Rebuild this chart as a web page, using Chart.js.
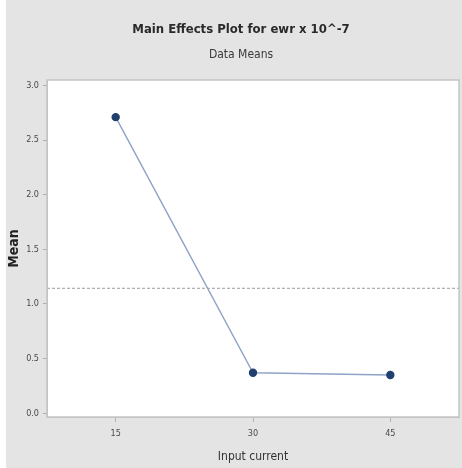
<!DOCTYPE html>
<html>
<head>
<meta charset="utf-8">
<script src="https://cdn.jsdelivr.net/npm/chart.js@4/dist/chart.umd.min.js"></script>
<style>
  html, body { margin: 0; padding: 0; background: #ffffff; overflow: hidden; width: 462px; height: 468px; }
  #wrap { position: absolute; left: 6px; top: 0; width: 470px; height: 468px; }
</style>
</head>
<body>
<div id="wrap"><canvas id="c" width="470" height="468"></canvas></div>
<script>
// Input current levels and the mean response at each level
const levels = ['15', '30', '45'];
const means = [2.71, 0.37, 0.35];
const yTicks = [0.0, 0.5, 1.0, 1.5, 2.0, 2.5, 3.0];

const grandMean = means.reduce((a, b) => a + b, 0) / means.length;

const narrow = "'Liberation Sans Narrow', 'DejaVu Sans Condensed', 'Liberation Sans', sans-serif";

// Gray page, white plot panel with a thin frame, dashed grand-mean line
const panel = {
  id: 'panel',
  beforeDraw(chart) {
    const { ctx, chartArea: a } = chart;
    ctx.save();
    ctx.fillStyle = '#e4e4e4';
    ctx.fillRect(0, 0, chart.width, chart.height);
    ctx.fillStyle = '#ffffff';
    ctx.fillRect(a.left, a.top, a.right - a.left, a.bottom - a.top);
    ctx.restore();
  },
  beforeDatasetsDraw(chart) {
    const { ctx, chartArea: a, scales } = chart;
    const y = scales.y.getPixelForValue(grandMean);
    ctx.save();
    ctx.strokeStyle = '#9a9a9a';
    ctx.lineWidth = 1;
    ctx.setLineDash([3, 2]);
    ctx.beginPath();
    ctx.moveTo(a.left, y);
    ctx.lineTo(a.right, y);
    ctx.stroke();
    ctx.restore();
  },
  afterDraw(chart) {
    const { ctx, chartArea: a } = chart;
    ctx.save();
    ctx.strokeStyle = '#c4c4c4';
    ctx.lineWidth = 1.5;
    ctx.strokeRect(a.left, a.top, a.right - a.left, a.bottom - a.top);
    ctx.restore();
  }
};

new Chart(document.getElementById('c'), {
  type: 'line',
  data: {
    labels: levels,
    datasets: [{
      data: means,
      borderColor: '#8ea3c6',
      borderWidth: 1.4,
      pointRadius: 3.5,
      pointBackgroundColor: '#22406e',
      pointBorderColor: '#22406e',
      tension: 0
    }]
  },
  options: {
    responsive: false,
    animation: false,
    // left padding centres the heading block a little right of the canvas middle
    layout: { padding: { left: 17, right: 17, top: 0, bottom: 0 } },
    plugins: {
      legend: { display: false },
      tooltip: { enabled: false },
      title: {
        display: true,
        text: 'Main Effects Plot for ewr x 10^-7',
        color: '#2a2a2a',
        font: { family: narrow, size: 13, weight: 'bold' },
        padding: { top: 22, bottom: 0 }
      },
      subtitle: {
        display: true,
        text: 'Data Means',
        color: '#3a3a3a',
        font: { family: narrow, size: 12 },
        padding: { top: 10, bottom: 18 }
      }
    },
    scales: {
      x: {
        type: 'category',
        offset: true,
        grid: { display: true, drawOnChartArea: false, tickLength: 5, color: '#b0b0b0' },
        border: { display: true, color: '#c4c4c4' },
        ticks: { color: '#4a4a4a', font: { family: narrow, size: 9 }, padding: 6 },
        title: {
          display: true,
          text: 'Input current',
          color: '#333333',
          font: { family: narrow, size: 12 },
          padding: { top: 0, bottom: 4 }
        },
        afterFit(scale) { scale.height = 51; }
      },
      y: {
        type: 'linear',
        min: -0.035,
        max: 3.05,
        afterBuildTicks(scale) { scale.ticks = yTicks.map(v => ({ value: v })); },
        grid: { display: true, drawOnChartArea: false, tickLength: 4, color: '#b0b0b0' },
        border: { display: true, color: '#c4c4c4' },
        ticks: {
          color: '#4a4a4a',
          font: { family: narrow, size: 9 },
          padding: 4,
          callback: v => Number(v).toFixed(1)
        },
        title: {
          display: true,
          text: 'Mean',
          color: '#222222',
          font: { family: narrow, size: 14, weight: 'bold' },
          // pulls the rotated axis title back out into the left margin
          padding: { top: -17, bottom: 0 }
        },
        afterFit(scale) { scale.width = 24; }
      }
    }
  },
  plugins: [panel]
});
</script>
</body>
</html>
